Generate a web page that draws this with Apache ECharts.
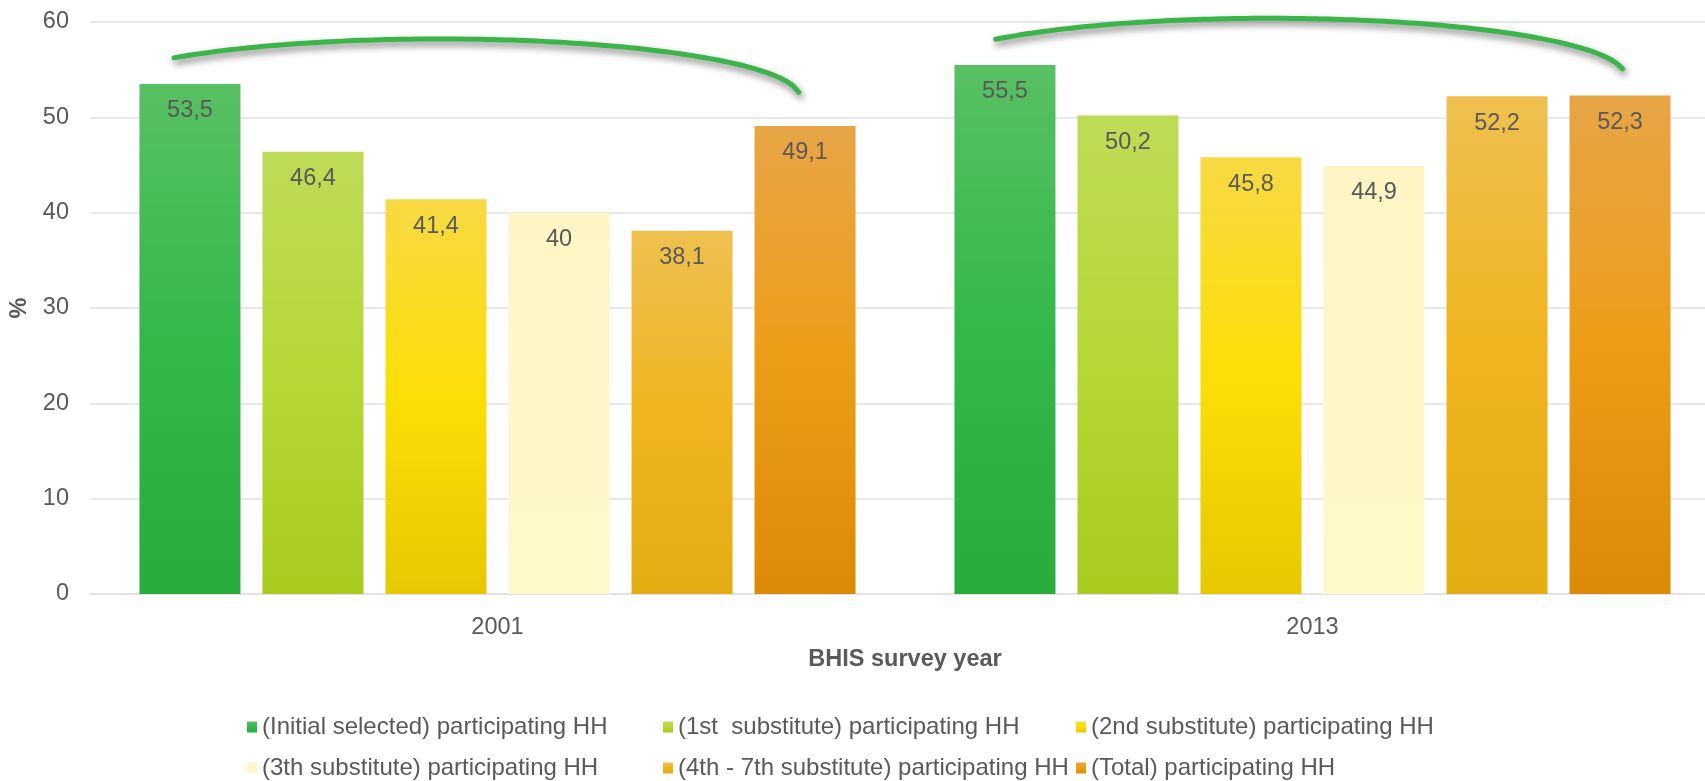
<!DOCTYPE html>
<html>
<head>
<meta charset="utf-8">
<title>BHIS participating households</title>
<script src="https://cdn.jsdelivr.net/npm/echarts@6/dist/echarts.min.js"></script>
<style>
  html, body { margin: 0; padding: 0; background: #ffffff; }
  #chart { width: 1705px; height: 781px; }
</style>
</head>
<body>
<div id="chart"></div>
<script>
// Survey years on the category axis
const years = ['2001', '2013'];

// Participation (%) by household type
const seriesNames = [
  '(Initial selected) participating HH',
  '(1st  substitute) participating HH',
  '(2nd substitute) participating HH',
  '(3th substitute) participating HH',
  '(4th - 7th substitute) participating HH',
  '(Total) participating HH'
];
const initialSelected = [53.5, 55.5];
const firstSubstitute = [46.4, 50.2];
const secondSubstitute = [41.4, 45.8];
const thirdSubstitute = [40, 44.9];
const fourthToSeventh = [38.1, 52.2];
const totalParticipating = [49.1, 52.3];

const yTicks = { min: 0, max: 60, step: 10 };

// Bar fills: vertical gradients, light top -> saturated middle -> darker base
const fills = [
  ['#58c064', '#33b84a', '#28ac3b'],
  ['#bedb57', '#b7d736', '#a9ca1f'],
  ['#f8d944', '#fcdf06', '#e6c800'],
  ['#fdf5c4', '#fff7c7', '#fff8c9'],
  ['#efc050', '#f0b420', '#e3ad13'],
  ['#e8a546', '#ec9d18', '#da8a07']
];

// Bracket arcs over each year group (ellipse segments in axis units)
// cx, a: offset / half-width as a fraction of the category band; cy, b: value units
const arcs = [
  { cat: 0, cx: -0.0706, a: 0.4417, cy: 52.14, b: 6.08, u0: -0.739, u1: 0.997 },
  { cat: 1, cx: -0.0520, a: 0.4356, cy: 54.37, b: 6.02, u0: -0.773, u1: 0.993 }
];

const FONT = "'Liberation Sans', Arial, sans-serif";
const TEXT = '#595959';
const FS = 23.5;

const values = [initialSelected, firstSubstitute, secondSubstitute,
                thirdSubstitute, fourthToSeventh, totalParticipating];

function grad(stops) {
  return new echarts.graphic.LinearGradient(0, 0, 0, 1, [
    { offset: 0, color: stops[0] },
    { offset: 0.5, color: stops[1] },
    { offset: 1, color: stops[2] }
  ]);
}

const barSeries = seriesNames.map((name, i) => ({
  name: name,
  type: 'bar',
  data: values[i],
  barWidth: 101,
  barGap: '21.8%',
  itemStyle: { color: grad(fills[i]) },
  label: {
    show: true,
    position: 'insideTop',
    distance: 15,
    color: TEXT,
    fontFamily: FONT,
    fontSize: FS,
    formatter: p => String(p.value).replace('.', ',')
  }
}));

const arcSeries = {
  type: 'custom',
  silent: true,
  z: 5,
  clip: false,
  data: arcs.map(a => [a.cat, a.cy]),
  renderItem: function (params, api) {
    const arc = arcs[params.dataIndex];
    const c = api.coord([api.value(0), api.value(1)]);
    const band = api.size([1, 0])[0];
    const bPx = api.size([0, arc.b])[1];
    const pts = [];
    const n = 100;
    for (let k = 0; k <= n; k++) {
      const u = arc.u0 + (arc.u1 - arc.u0) * k / n;
      const x = c[0] + arc.cx * band + u * arc.a * band;
      const y = c[1] - bPx * Math.sqrt(Math.max(0, 1 - u * u));
      pts.push([x, y]);
    }
    return {
      type: 'polyline',
      shape: { points: pts },
      style: {
        stroke: '#3bb54a',
        lineWidth: 5,
        fill: null,
        lineCap: 'round',
        lineJoin: 'round',
        shadowColor: 'rgba(0,0,0,0.5)',
        shadowBlur: 7,
        shadowOffsetX: 2,
        shadowOffsetY: 4
      }
    };
  }
};

const legendBase = {
  orient: 'vertical',
  icon: 'rect',
  itemWidth: 10,
  itemHeight: 11,
  itemGap: 17,
  top: 715,
  height: 90,
  padding: 0,
  selectedMode: false,
  textStyle: { color: TEXT, fontFamily: FONT, fontSize: 24 }
};

const chart = echarts.init(document.getElementById('chart'), null, { renderer: 'canvas' });
chart.setOption({
  animation: false,
  backgroundColor: '#ffffff',
  textStyle: { fontFamily: FONT },
  grid: {
    left: 90, top: 22, width: 1630, height: 572,
    containLabel: false,
    outerBoundsMode: 'none'
  },
  legend: [
    Object.assign({}, legendBase, { left: 247, data: [seriesNames[0], seriesNames[3]] }),
    Object.assign({}, legendBase, { left: 663, data: [seriesNames[1], seriesNames[4]] }),
    Object.assign({}, legendBase, { left: 1076, data: [seriesNames[2], seriesNames[5]] })
  ],
  xAxis: {
    type: 'category',
    data: years,
    name: 'BHIS survey year',
    nameLocation: 'middle',
    nameGap: 54,
    nameTextStyle: { color: TEXT, fontFamily: FONT, fontSize: FS, fontWeight: 'bold' },
    axisLine: { show: true, lineStyle: { color: '#e0e0e0', width: 1.5 } },
    axisTick: { show: false },
    axisLabel: { color: TEXT, fontFamily: FONT, fontSize: FS, margin: 22 }
  },
  yAxis: {
    type: 'value',
    min: yTicks.min,
    max: yTicks.max,
    interval: yTicks.step,
    name: '%',
    nameLocation: 'middle',
    nameGap: 53,
    nameTextStyle: { color: TEXT, fontFamily: FONT, fontSize: FS, fontWeight: 'bold' },
    axisLine: { show: false },
    axisTick: { show: false },
    axisLabel: { color: TEXT, fontFamily: FONT, fontSize: FS, margin: 21 },
    splitLine: { lineStyle: { color: '#e0e0e0', width: 1.5 } }
  },
  series: barSeries.concat([arcSeries])
});
</script>
</body>
</html>
